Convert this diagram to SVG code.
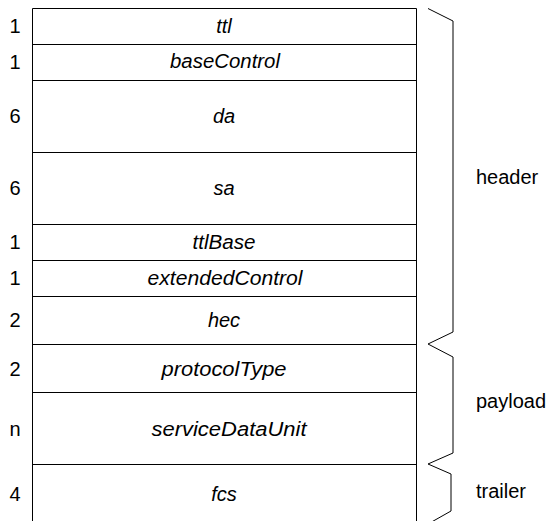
<svg xmlns="http://www.w3.org/2000/svg" width="549" height="521" viewBox="0 0 549 521">
<style>
text{font-family:"Liberation Sans",Arial,sans-serif;font-size:20px;fill:#000}
.f{font-style:italic;text-anchor:middle}
.n{text-anchor:middle}
.ln{stroke:#000;stroke-width:1;fill:none}
.br{stroke:#000;stroke-width:1;fill:none;stroke-linejoin:miter}
</style>
<rect x="0" y="0" width="549" height="521" fill="#fff"/>
<g id="frame">
<path class="ln" d="M32.5,525 V8.5 H416.5 V525"/>
</g>
<g id="row-ttl"><text class="n" x="15" y="33">1</text><text class="f" x="224" y="33">ttl</text><line class="ln" x1="32.5" y1="44.5" x2="416.5" y2="44.5"/></g>
<g id="row-baseControl"><text class="n" x="15" y="69">1</text><text class="f" x="225" y="68" textLength="110" lengthAdjust="spacingAndGlyphs">baseControl</text><line class="ln" x1="32.5" y1="80.5" x2="416.5" y2="80.5"/></g>
<g id="row-da"><text class="n" x="15" y="123">6</text><text class="f" x="224" y="123">da</text><line class="ln" x1="32.5" y1="152.5" x2="416.5" y2="152.5"/></g>
<g id="row-sa"><text class="n" x="15" y="195">6</text><text class="f" x="224" y="195">sa</text><line class="ln" x1="32.5" y1="224.5" x2="416.5" y2="224.5"/></g>
<g id="row-ttlBase"><text class="n" x="15" y="249">1</text><text class="f" x="224" y="249" textLength="63" lengthAdjust="spacingAndGlyphs">ttlBase</text><line class="ln" x1="32.5" y1="260.5" x2="416.5" y2="260.5"/></g>
<g id="row-extendedControl"><text class="n" x="15" y="285">1</text><text class="f" x="225" y="285" textLength="155" lengthAdjust="spacingAndGlyphs">extendedControl</text><line class="ln" x1="32.5" y1="296.5" x2="416.5" y2="296.5"/></g>
<g id="row-hec"><text class="n" x="15" y="327">2</text><text class="f" x="224" y="327">hec</text><line class="ln" x1="32.5" y1="344.5" x2="416.5" y2="344.5"/></g>
<g id="row-protocolType"><text class="n" x="15" y="376">2</text><text class="f" x="224" y="376" textLength="125" lengthAdjust="spacingAndGlyphs">protocolType</text><line class="ln" x1="32.5" y1="392.5" x2="416.5" y2="392.5"/></g>
<g id="row-serviceDataUnit"><text class="n" x="15" y="436">n</text><text class="f" x="229" y="436" textLength="155" lengthAdjust="spacingAndGlyphs">serviceDataUnit</text><line class="ln" x1="32.5" y1="464.5" x2="416.5" y2="464.5"/></g>
<g id="row-fcs"><text class="n" x="15" y="501">4</text><text class="f" x="224" y="501">fcs</text></g>
<g id="connectors">
<path class="br" d="M428,8.5 L453,21 V332 L428,344"/>
<path class="br" d="M428,344 L453,357 V453 L428,464"/>
<path class="br" d="M428,464 L451,474 V511 L428,524"/>
</g>
<g id="label-header"><text x="476" y="184">header</text></g>
<g id="label-payload"><text x="476" y="408">payload</text></g>
<g id="label-trailer"><text x="476" y="498">trailer</text></g>
</svg>
